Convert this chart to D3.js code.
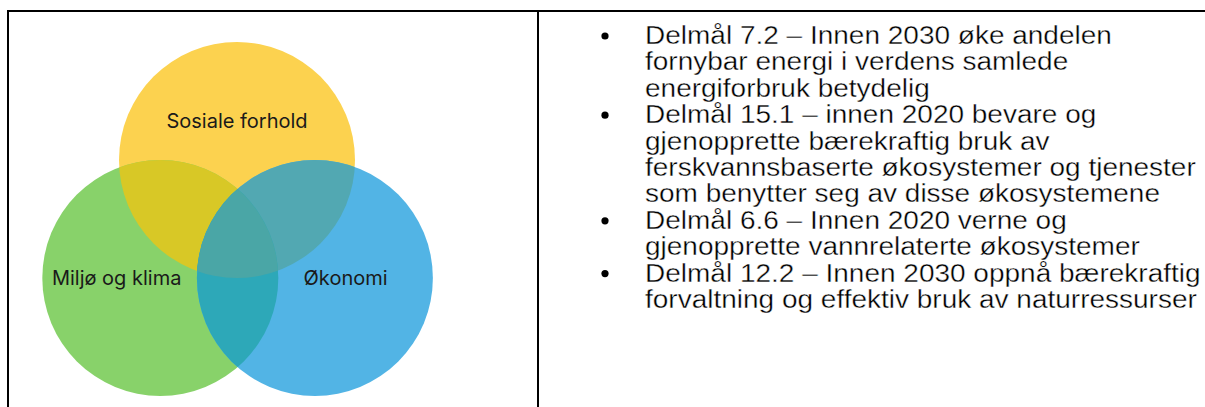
<!DOCTYPE html>
<html>
<head>
<meta charset="utf-8">
<script src="https://cdn.jsdelivr.net/npm/d3@7"></script>
<style>
  html, body { margin: 0; padding: 0; background: #fff; }
  svg { display: block; }
</style>
</head>
<body>
<svg id="chart" width="1205" height="407"></svg>
<script>
(function (d3) {
  'use strict';

  // three pillars of sustainability (venn)
  const setNames = ['Sosiale forhold', 'Miljø og klima', 'Økonomi'];
  const setColors = ['#FCD24F', '#88D26A', '#52B4E5'];
  // centre of each circle in layout units (radius = 1)
  const setX = [0, -0.65, 0.66];
  const setY = [-1.0, 0, 0];
  // where the label sits, layout units
  const labelX = [0, -1.02, 0.92];
  const labelY = [-1.33, 0, 0];

  // overlap fills, keyed by set indexes
  const overlaps = [
    { sets: [0, 1], color: '#D8C826' },
    { sets: [0, 2], color: '#52A8B2' },
    { sets: [1, 2], color: '#2DA8B8' },
    { sets: [0, 1, 2], color: '#4AA6A6' },
  ];

  // bullet list, one array of wrapped lines per goal
  const goals = [
    ['Delmål 7.2 – Innen 2030 øke andelen', 'fornybar energi i verdens samlede', 'energiforbruk betydelig'],
    ['Delmål 15.1 – innen 2020 bevare og', 'gjenopprette bærekraftig bruk av', 'ferskvannsbaserte økosystemer og tjenester', 'som benytter seg av disse økosystemene'],
    ['Delmål 6.6 – Innen 2020 verne og', 'gjenopprette vannrelaterte økosystemer'],
    ['Delmål 12.2 – Innen 2030 oppnå bærekraftig', 'forvaltning og effektiv bruk av naturressurser'],
  ];

  const WIDTH = 1205;
  const HEIGHT = 407;
  const BORDER = 2;
  const TABLE_TOP = 11;
  const TABLE_LEFT = 8;
  const DIVIDER = 538;

  const svg = d3.select('#chart');

  // table grid
  const grid = svg.append('g').attr('stroke', '#000').attr('stroke-width', BORDER);
  grid.append('line').attr('x1', TABLE_LEFT - 1).attr('x2', WIDTH).attr('y1', TABLE_TOP).attr('y2', TABLE_TOP);
  grid.append('line').attr('x1', TABLE_LEFT).attr('x2', TABLE_LEFT).attr('y1', TABLE_TOP).attr('y2', HEIGHT);
  grid.append('line').attr('x1', DIVIDER).attr('x2', DIVIDER).attr('y1', TABLE_TOP).attr('y2', HEIGHT);

  // ---- venn ----
  const R = 118;
  const x = d3.scaleLinear().domain([0, 1]).range([237, 237 + R]);
  const y = d3.scaleLinear().domain([0, 1]).range([278, 278 + R]);
  const r = d3.scaleLinear().domain([0, 1]).range([0, R]);

  const sets = setNames.map((name, i) => ({
    name, i, color: setColors[i],
    cx: x(setX[i]), cy: y(setY[i]), r: r(1),
    lx: x(labelX[i]), ly: y(labelY[i]),
  }));

  const defs = svg.append('defs');
  sets.forEach((s) => {
    defs.append('clipPath').attr('id', 'clip' + s.i)
      .append('circle').attr('cx', s.cx).attr('cy', s.cy).attr('r', s.r);
  });

  const venn = svg.append('g');

  venn.selectAll('circle.set')
    .data(sets)
    .enter()
    .append('circle')
    .attr('class', 'set')
    .attr('cx', (d) => d.cx)
    .attr('cy', (d) => d.cy)
    .attr('r', (d) => d.r)
    .attr('fill', (d) => d.color);

  // nest clip groups for each overlap, innermost circle is drawn
  overlaps.forEach((o) => {
    let g = venn.append('g');
    o.sets.slice(1).forEach((k) => {
      g = g.attr('clip-path', 'url(#clip' + k + ')').append('g');
    });
    const s = sets[o.sets[0]];
    g.append('circle')
      .attr('cx', s.cx).attr('cy', s.cy).attr('r', s.r)
      .attr('fill', o.color);
  });

  venn.selectAll('text')
    .data(sets)
    .enter()
    .append('text')
    .attr('x', (d) => d.lx)
    .attr('y', (d) => d.ly)
    .attr('text-anchor', 'middle')
    .attr('dominant-baseline', 'central')
    .attr('font-family', 'Inter, Roboto, sans-serif')
    .attr('font-size', 20)
    .attr('fill', '#1a1a1a')
    .text((d) => d.name);

  // ---- bullet list ----
  const lines = [];
  goals.forEach((g) => g.forEach((t, j) => lines.push({ text: t, first: j === 0 })));

  const lineY = d3.scaleLinear().domain([0, 1]).range([44, 70.4]);
  const TEXT_X = 645;
  const BULLET_X = 605;

  const list = svg.append('g');

  list.selectAll('circle')
    .data(lines.map((l, i) => ({ ...l, i })).filter((l) => l.first))
    .enter()
    .append('circle')
    .attr('cx', BULLET_X)
    .attr('cy', (d) => lineY(d.i) - 8)
    .attr('r', 3.6)
    .attr('fill', '#000');

  const texts = list.selectAll('text')
    .data(lines)
    .enter()
    .append('text')
    .attr('x', TEXT_X)
    .attr('y', (d, i) => lineY(i))
    .attr('font-family', '"Liberation Sans", Arial, sans-serif')
    .attr('font-size', 25.5)
    .attr('fill', '#000')
    .attr('stroke', '#fff')
    .attr('stroke-width', 0.35)
    .text((d) => d.text);

  // fit the widest line to the source width
  const widest = d3.max(texts.nodes(), (n) => n.getComputedTextLength());
  const sx = 556 / widest;
  texts.attr('transform', `translate(${TEXT_X * (1 - sx)},0) scale(${sx},1)`);

}(d3));
</script>
</body>
</html>
